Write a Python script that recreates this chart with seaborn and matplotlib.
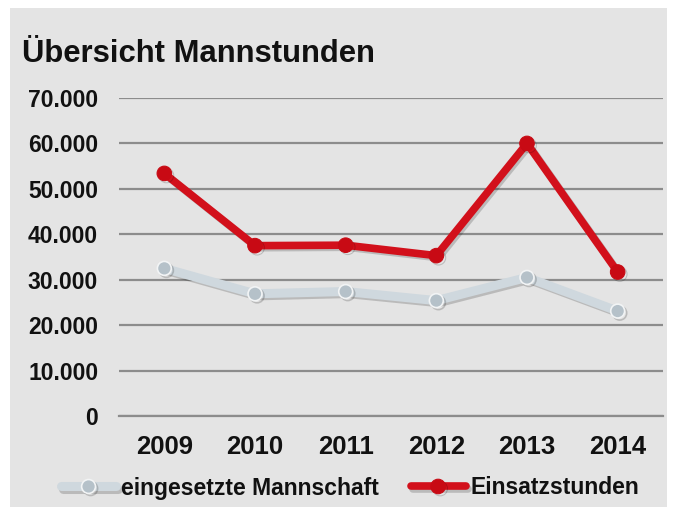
import pandas as pd
import matplotlib
matplotlib.use("Agg")
import matplotlib.pyplot as plt
import matplotlib.patheffects as pe
from matplotlib.patches import Rectangle
from matplotlib.ticker import FuncFormatter, FixedLocator
import seaborn as sns

# --------------------------------------------------
# Data
# --------------------------------------------------
years = ["2009", "2010", "2011", "2012", "2013", "2014"]
mannschaft = [32500, 26900, 27400, 25400, 30500, 23100]
einsatzstunden = [53400, 37500, 37600, 35300, 60000, 31700]

df = pd.DataFrame({
    "Jahr": years * 2,
    "Stunden": mannschaft + einsatzstunden,
    "Serie": ["eingesetzte Mannschaft"] * len(years) + ["Einsatzstunden"] * len(years),
})

# --------------------------------------------------
# Style
# --------------------------------------------------
sns.set_style("white")
plt.rcParams["font.family"] = ["Liberation Sans", "DejaVu Sans"]
plt.rcParams["font.weight"] = "bold"
plt.rcParams["text.color"] = "#111111"
plt.rcParams["xtick.labelcolor"] = "#111111"
plt.rcParams["ytick.labelcolor"] = "#111111"

BG = "#e4e4e4"
RED = "#d2101b"
GREY_LINE = "#cfd8de"
GREY_MARK = "#b5c1c9"
GRID = "#8c8c8c"

fig = plt.figure(figsize=(6.75, 5.13), dpi=100)
fig.patch.set_facecolor("white")
fig.patches.append(Rectangle((10 / 675, 6 / 513), 657 / 675, 499 / 513,
                             transform=fig.transFigure, facecolor=BG,
                             edgecolor="none", zorder=-10))

ax = fig.add_axes([119 / 675, 1 - 416 / 513, 544 / 675, 318 / 513])
ax.set_facecolor("none")

shadow = [pe.SimpleLineShadow(offset=(1.5, -1.5), alpha=0.18, shadow_color="black"), pe.Normal()]

sns.lineplot(data=df[df["Serie"] == "eingesetzte Mannschaft"], x="Jahr", y="Stunden",
             ax=ax, color=GREY_LINE, linewidth=6.5, marker="o", markersize=10,
             markerfacecolor=GREY_MARK, markeredgecolor="#f2f4f5", markeredgewidth=1.2,
             label="eingesetzte Mannschaft", path_effects=shadow, zorder=3)
sns.lineplot(data=df[df["Serie"] == "Einsatzstunden"], x="Jahr", y="Stunden",
             ax=ax, color=RED, linewidth=5.5, marker="o", markersize=10.5,
             markerfacecolor="#c80a14", markeredgecolor="#c80a14",
             label="Einsatzstunden", path_effects=shadow, zorder=4)

ax.set_xlim(-0.5, len(years) - 0.5)
ax.set_ylim(0, 70000)
ax.yaxis.set_major_locator(FixedLocator(range(0, 70001, 10000)))
ax.yaxis.set_major_formatter(FuncFormatter(lambda v, p: f"{int(v):,}".replace(",", ".")))
ax.grid(axis="y", color=GRID, linewidth=1.6, zorder=0)
ax.grid(axis="x", visible=False)
ax.set_axisbelow(True)

for s in ["top", "right", "left"]:
    ax.spines[s].set_visible(False)
ax.spines["bottom"].set_color(GRID)
ax.spines["bottom"].set_linewidth(1.6)

ax.xaxis.set_minor_locator(FixedLocator([i - 0.5 for i in range(len(years) + 1)]))
ax.tick_params(axis="x", which="minor", length=5, width=1.2, color=GRID, direction="out")
ax.tick_params(axis="x", which="major", length=0, pad=14, labelsize=18.5)
ax.tick_params(axis="y", length=0, pad=15, labelsize=16.5)
for lab in ax.get_xticklabels() + ax.get_yticklabels():
    lab.set_fontweight("bold")

ax.set_xlabel("")
ax.set_ylabel("")

ax.get_legend().remove()
handles, labels = ax.get_legend_handles_labels()
fig.legend(handles, labels, loc="center", bbox_to_anchor=(350 / 675, 1 - 488 / 513),
           ncol=2, frameon=False, handlelength=2.4, handletextpad=0.2,
           columnspacing=1.4, prop={"size": 16.5, "weight": "bold"})

fig.text(22 / 675, 1 - 62 / 513, "Übersicht Mannstunden", fontsize=22.3,
         fontweight="bold", ha="left", va="baseline")

fig.savefig("out.png", dpi=100)
